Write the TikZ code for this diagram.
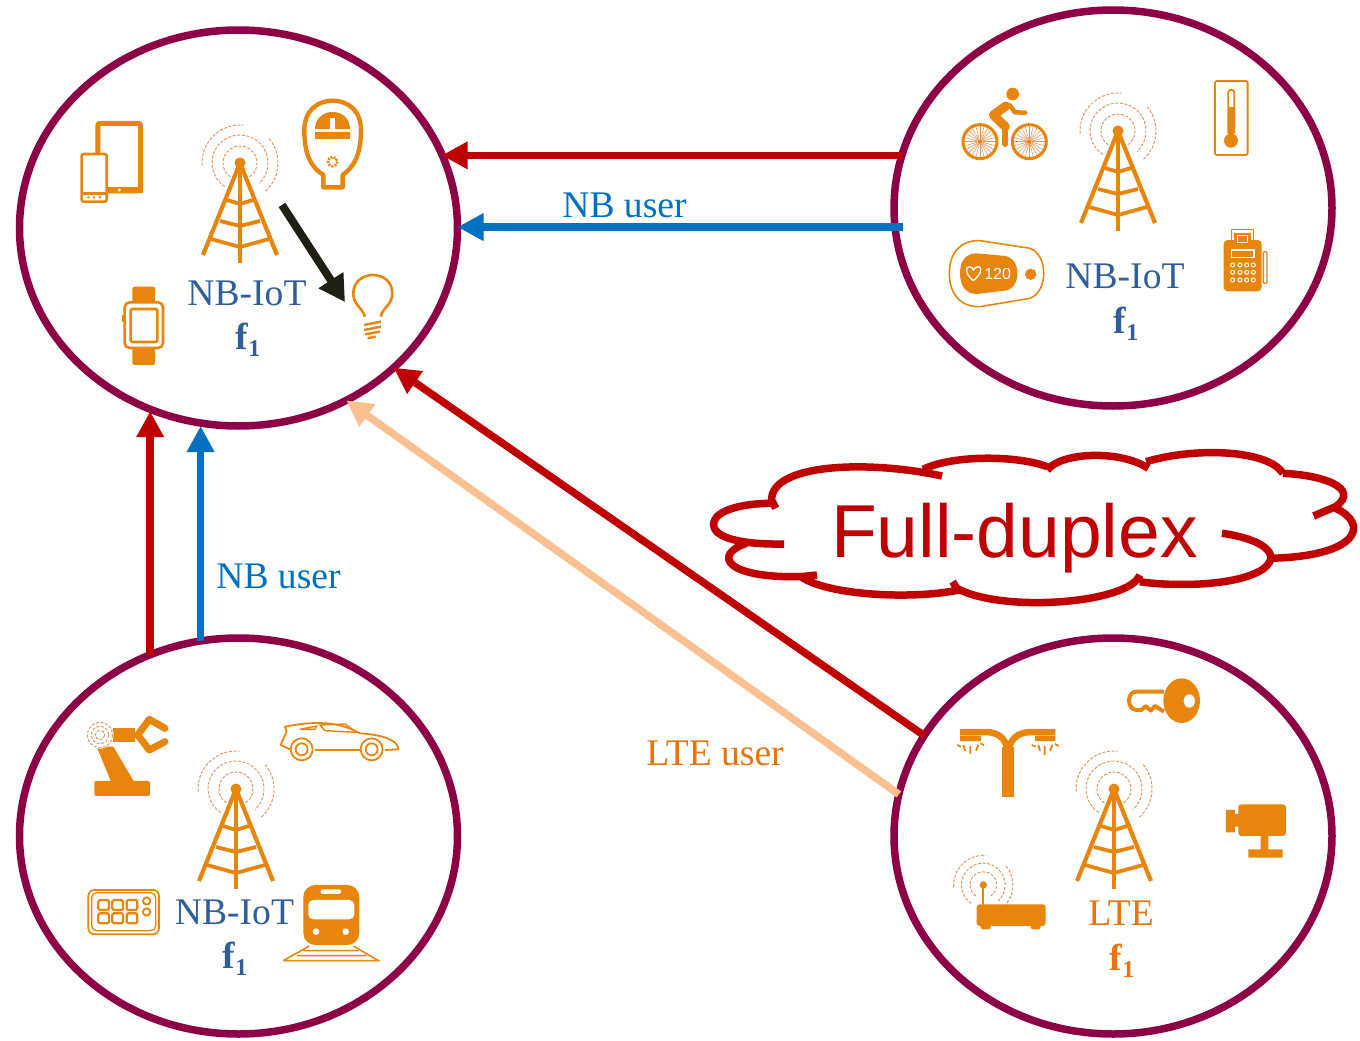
\documentclass[tikz,border=0pt]{standalone}
\usepackage{fontspec}
\usepackage{tikz}
\usetikzlibrary{positioning,shapes.geometric,arrows.meta}
\setmainfont{Liberation Serif}
\newfontfamily\labelsf{Liberation Sans}
\definecolor{cellrim}{HTML}{8E0045}
\definecolor{linkred}{HTML}{C00000}
\definecolor{linkblue}{HTML}{0070C0}
\definecolor{linkpeach}{HTML}{FAC090}
\definecolor{beamdark}{HTML}{211E12}
\definecolor{iconor}{HTML}{E8850C}
\definecolor{waveor}{HTML}{DC9A62}
\definecolor{nbtext}{HTML}{2F5F9A}
\definecolor{ltetext}{HTML}{E9730F}
\newcommand{\fone}{\textbf{f\raisebox{-7pt}{\fontsize{24}{24}\selectfont 1}}}

\tikzset{
  wave/.style={waveor, line width=1pt, dash pattern=on 3pt off 1.6pt},
  waves/.pic={
    \draw[wave] (-235:17) arc[start angle=-235, end angle=55, radius=17];
    \draw[wave] (-237:28) arc[start angle=-237, end angle=47, radius=28];
    \draw[wave] (-184:38) arc[start angle=-184, end angle=-85, radius=38];
    \draw[wave] (-40:38) arc[start angle=-40, end angle=50, radius=38];
  },
  tower/.pic={
    \draw[iconor, line width=4.2pt, line join=round] (-37,92) -- (0,0) -- (37,92);
    \draw[iconor, line width=4.2pt] (0,0) -- (0,100);
    \draw[iconor, line width=3.8pt] (-13,37) -- (0,41) -- (13,37);
    \draw[iconor, line width=3.8pt] (-20,58) -- (0,63) -- (20,58);
    \draw[iconor, line width=3.8pt] (-29,76) -- (0,84) -- (29,76);
    \fill[iconor] (0,0) circle[radius=5.5];
    \pic {waves};
  }
}

\begin{document}
\begin{tikzpicture}[x=1pt, y=-1pt,
    cell/.style={ellipse, draw=cellrim, line width=7.5pt, minimum width=438pt, minimum height=396pt, inner sep=0pt, outer sep=0pt},
    link/.style={-{Triangle[length=26pt, width=26pt]}, line width=7.5pt},
    cellname/.style={anchor=base, inner sep=0pt, font=\fontsize{37.6}{37.6}\selectfont},
    linkname/.style={anchor=base, inner sep=0pt, font=\fontsize{37.6}{37.6}\selectfont},
    cropA/.style={shift={(60,80)}, x=.3333pt, y=-.3333pt},
    cropB/.style={shift={(930,70)}, x=.3333pt, y=-.3333pt},
    cropC/.style={shift={(70,700)}, x=.3333pt, y=-.3333pt},
    cropD/.style={shift={(940,670)}, x=.3333pt, y=-.3333pt},
    cropE/.style={shift={(700,440)}, x=.4209pt, y=-.3333pt}]
  \useasboundingbox (0,0) rectangle (1360,1041);

  % the four cells
  \node[cell] (cellA) at (238.5,228) {};
  \node[cell] (cellB) at (1113,208) {};
  \node[cell] (cellC) at (238.5,836) {};
  \node[cell] (cellD) at (1113,836) {};

  % links between the cells
  \draw[link, linkred] (cellB.166) -- (cellB.166 -| cellA.20);
  \draw[link, linkblue, shorten <=-8pt] (cellB.185) -- (cellB.185 -| cellA.0);
  \draw[link, linkred, shorten >=2pt] (cellC.116) -- (cellC.116 |- cellA.244);
  \draw[link, linkblue, shorten >=3pt] (cellC.101) -- (cellC.101 |- cellA.259);
  \draw[link, linkpeach] (cellD.169) -- (cellA.302);
  \draw[link, linkred] (cellD.152.6) -- (cellA.318.6);

  \coordinate (beamfrom) at (282,205);
  \coordinate (beamto) at (345,302);
  \draw[-{Triangle[length=26pt, width=28pt]}, beamdark, line width=8pt] (beamfrom) -- (beamto);

  % texts
  \node[cellname, text=nbtext] (nameA) at (247,305) {NB-IoT};
  \node[cellname, text=nbtext] (freqA) at (248,349) {\fone};
  \node[cellname, text=nbtext] (nameB) at (1125,288) {NB-IoT};
  \node[cellname, text=nbtext] (freqB) at (1126,333) {\fone};
  \node[cellname, text=nbtext] (nameC) at (234.5,924) {NB-IoT};
  \node[cellname, text=nbtext] (freqC) at (235,968) {\fone};
  \node[cellname, text=ltetext] (nameD) at (1121,925) {LTE};
  \node[cellname, text=ltetext] (freqD) at (1122,970) {\fone};
  \node[linkname, text=linkblue] (userB) at (624.5,217) {NB user};
  \node[linkname, text=linkblue] (userC) at (278.5,588) {NB user};
  \node[linkname, text=ltetext] (userD) at (715,765) {LTE user};
  \node[anchor=base, inner sep=0pt, text=linkred, font=\labelsf\fontsize{75}{75}\selectfont] (cloudname) at (1014.5,557) {Full-duplex};

  % towers
  \pic at (240,163) {tower};
  \pic at (1118,131) {tower};
  \pic at (236,789) {tower};
  \pic at (1114,789) {tower};
  \pic[scale=.78] at (983.3,885) {waves};

  % cloud
  \begin{scope}[cropE]
    \draw[linkred, line width=7.5pt]
      (575,108) .. controls (400,60) and (170,70) .. (170,180) -- (180,205)
      (530,88) .. controls (600,45) and (750,45) .. (825,80)
      (825,90) .. controls (860,35) and (1000,30) .. (1065,85)
      (1060,65) .. controls (1180,20) and (1350,30) .. (1385,100)
      (1385,100) .. controls (1480,105) and (1570,145) .. (1510,200) -- (1458,228)
      (1510,205) .. controls (1590,250) and (1570,350) .. (1350,355)
      (1240,280) .. controls (1330,295) and (1385,340) .. (1340,385) .. controls (1280,440) and (1120,440) .. (1045,425)
      (1045,405) .. controls (1020,490) and (720,520) .. (610,445) -- (600,425)
      (615,450) .. controls (500,480) and (300,465) .. (240,410) -- (278,405)
      (240,410) .. controls (60,415) and (30,345) .. (110,310)
      (200,312) .. controls (70,315) and (10,280) .. (40,230) .. controls (60,205) and (110,190) .. (170,190);
  \end{scope}

  % icons of the first cell
  \begin{scope}[cropA]
    \draw[iconor, line width=5pt, rounded corners=2pt] (114,130) rectangle (241,333);
    \fill[iconor] (114,322) rectangle (248,340);
    \fill[white] (178,330) circle[radius=5];
    \draw[iconor, fill=white, line width=2.6pt, rounded corners=2pt] (65,222) rectangle (140,365);
    \draw[iconor, line width=2.4pt] (65,340) -- (140,340);
    \foreach \dotx in {85,102,120} \fill[iconor] (\dotx,352) circle[radius=4];
    % meter
    \draw[iconor, line width=4.4pt, line join=round] (790,322) -- (790,285) .. controls (760,265) and (733,235) .. (733,150) .. controls (733,90) and (775,62) .. (818,62) .. controls (862,62) and (903,90) .. (903,150) .. controls (903,235) and (875,265) .. (848,285) -- (848,322) -- cycle;
    \fill[iconor] (765,147) .. controls (765,115) and (790,96) .. (818,96) .. controls (846,96) and (870,115) .. (870,147) -- cycle;
    \fill[white] (810,115) rectangle (826,147);
    \fill[iconor] (765,157) rectangle (870,176);
    \draw[iconor, line width=2.4pt, dash pattern=on 2pt off 1.2pt] (818,245) circle[radius=14];
    % watch
    \fill[iconor, rounded corners=2pt] (217,620) rectangle (285,672);
    \fill[iconor, rounded corners=2pt] (217,800) rectangle (285,855);
    \draw[iconor, fill=white, line width=2.6pt, rounded corners=5pt] (194,667) rectangle (309,804);
    \draw[iconor, line width=2.6pt, rounded corners=2pt] (212,687) rectangle (292,786);
    \fill[iconor] (185,705) rectangle (193,727);
    % bulb
    \draw[iconor, line width=2.6pt] (915,710) .. controls (905,680) and (880,675) .. (880,640) .. controls (880,605) and (910,585) .. (938,585) .. controls (970,585) and (997,605) .. (997,640) .. controls (997,675) and (970,680) .. (962,710);
    \draw[iconor, line width=2.4pt] (912,735) -- (963,725) (912,750) -- (963,740) (915,763) -- (960,755) (923,775) -- (947,770);
  \end{scope}

  % icons of the second cell
  \begin{scope}[cropB]
    % bike
    \foreach \wheelx in {150,298} {
      \foreach \spoke in {0,15,...,345}
        \draw[waveor, line width=.6pt] (\wheelx,215) ++(\spoke:8) -- ++(\spoke:40);
      \draw[iconor, line width=3pt] (\wheelx,215) circle[radius=51];
      \fill[iconor] (\wheelx,215) circle[radius=7];
    }
    \fill[iconor] (248,72) circle[radius=19];
    \draw[iconor, line width=9pt, line join=round, line cap=round] (228,108) -- (190,135) -- (226,170);
    \draw[iconor, line width=6pt, line cap=round] (226,170) -- (226,222);
    \draw[iconor, line width=4.5pt, line join=round, line cap=round] (238,105) -- (255,127) -- (285,128);
    % thermometer
    \draw[iconor, line width=1.8pt, rounded corners=2pt] (855,33) rectangle (953,255);
    \draw[iconor, line width=1.8pt] (895,190) -- (895,68) arc[start angle=180, end angle=360, radius=9] -- (913,190);
    \fill[iconor] (895,110) rectangle (913,200);
    \fill[iconor] (903,212) circle[radius=21];
    % tag
    \draw[iconor, line width=1.6pt] (58,610) .. controls (58,550) and (90,510) .. (150,512) -- (300,535) .. controls (355,555) and (355,665) .. (300,685) -- (150,710) .. controls (90,712) and (58,670) .. (58,610) -- cycle;
    \fill[iconor] (90,610) .. controls (90,570) and (110,550) .. (140,550) -- (225,558) .. controls (275,565) and (275,655) .. (225,662) -- (140,672) .. controls (110,672) and (90,650) .. (90,610) -- cycle;
    \draw[white, line width=1.3pt] (130,632) .. controls (105,612) and (105,590) .. (118,590) .. controls (125,590) and (130,597) .. (130,600) .. controls (130,597) and (138,590) .. (145,590) .. controls (158,590) and (155,612) .. (130,632);
    \node[text=white, inner sep=0pt, font=\labelsf\fontsize{16}{16}\selectfont] (tagvalue) at (203,611) {120};
    \fill[iconor] (302,613) circle[radius=17];
    % terminal
    \fill[iconor, rounded corners=4pt] (881,510) rectangle (995,664);
    \draw[iconor, fill=white, line width=1.5pt] (905,478) rectangle (970,512);
    \fill[iconor] (912,490) rectangle (962,530);
    \draw[white, line width=1.3pt] (922,497) rectangle (952,518);
    \draw[white, line width=1.5pt] (905,540) rectangle (972,562);
    \foreach \keyy in {585,607,630}
      \foreach \keyx in {908,930,950,970}
        \draw[white, line width=1pt] (\keyx,\keyy) circle[radius=6];
    \draw[iconor, line width=1.3pt, rounded corners=1pt] (1000,545) rectangle (1011,640);
  \end{scope}

  % icons of the third cell
  \begin{scope}[cropC]
    % robot
    \fill[iconor, rounded corners=2pt] (73,243) rectangle (240,288);
    \fill[iconor] (80,140) -- (125,250) -- (195,250) -- (130,140) -- cycle;
    \fill[iconor] (130,85) rectangle (195,125);
    \draw[iconor, line width=7pt, line join=round, line cap=round] (285,85) -- (238,58) -- (203,105) -- (238,150) -- (285,125);
    \fill[white] (90,105) circle[radius=41];
    \foreach \ringr in {14,26,38}
      \draw[wave] (90,105) circle[radius=\ringr];
    % car
    \draw[iconor, line width=1.8pt, line join=round] (660,148) -- (632,135) -- (650,95) -- (645,80) .. controls (720,65) and (800,60) .. (870,100) .. controls (950,105) and (985,125) .. (985,148) -- (945,150) (870,150) -- (735,150);
    \draw[iconor, line width=1.4pt] (690,88) -- (740,78) -- (735,88) -- cycle (750,75) -- (825,72) -- (860,97) -- (765,92) -- cycle;
    \foreach \wheelx in {695,905} {
      \draw[iconor, line width=1.8pt] (\wheelx,148) circle[radius=33];
      \draw[iconor, line width=1.8pt] (\wheelx,148) circle[radius=18];
    }
    % keypad
    \draw[iconor, line width=1.7pt, rounded corners=6pt] (55,570) -- (267,570) -- (267,703) -- (55,703) -- cycle;
    \draw[iconor, line width=1.3pt, rounded corners=5pt] (65,578) -- (257,578) -- (257,692) -- (65,692) -- cycle;
    \foreach \keyx in {85,127,170}
      \foreach \keyy in {600,640}
        \draw[iconor, line width=2.2pt, rounded corners=1.5pt] (\keyx,\keyy) rectangle ++(32,30);
    \draw[iconor, line width=1.9pt] (230,603) circle[radius=11] (230,636) circle[radius=11];
    % train
    \fill[iconor, rounded corners=12pt] (700,555) rectangle (868,735);
    \fill[white, rounded corners=5pt] (715,600) rectangle (853,658);
    \fill[white, rounded corners=2pt] (752,568) rectangle (813,582);
    \fill[white] (738,695) circle[radius=10] (827,695) circle[radius=10];
    \draw[iconor, line width=1.5pt] (640,782) -- (925,782) -- (850,738) (640,782) -- (718,738) (700,752) -- (865,752) (680,767) -- (890,767);
  \end{scope}

  % icons of the fourth cell
  \begin{scope}[cropD]
    % key
    \fill[iconor] (725,92) ellipse[x radius=55, y radius=67];
    \fill[white] (748,93) ellipse[x radius=17, y radius=20];
    \draw[iconor, line width=4pt, line join=round] (672,65) -- (588,65) .. controls (560,65) and (560,120) .. (590,120) -- (605,120) -- (617,108) -- (632,122) -- (645,108) -- (672,125);
    % lamp
    \fill[iconor] (187,230) rectangle (222,382);
    \draw[iconor, line width=6.5pt] (60,186) -- (135,186) .. controls (180,186) and (204,210) .. (204,260);
    \draw[iconor, line width=6.5pt] (346,186) -- (275,186) .. controls (230,186) and (204,210) .. (204,260);
    \fill[iconor] (60,197) rectangle (123,213) (285,197) rectangle (346,213);
    \draw[iconor, line width=1.8pt] (52,225) -- (62,230) (70,225) -- (75,243) (91,228) -- (91,252) (115,224) -- (108,242) (132,226) -- (122,220)
      (275,225) -- (287,230) (295,225) -- (300,243) (314,228) -- (314,255) (338,224) -- (330,242) (356,228) -- (345,222);
    % camera
    \fill[iconor, rounded corners=3pt] (895,403) rectangle (1038,498);
    \fill[iconor] (858,420) rectangle (885,487) (880,432) rectangle (900,470);
    \fill[iconor] (962,495) rectangle (985,540) (925,538) rectangle (1028,563);
    % router
    \fill[iconor, rounded corners=3pt] (110,703) rectangle (317,768);
    \fill[iconor, rounded corners=1.5pt] (122,760) rectangle (152,778) (272,760) rectangle (302,778);
    \draw[iconor, line width=2pt] (130,645) -- (130,705);
    \fill[iconor] (130,645) circle[radius=11];
  \end{scope}
\end{tikzpicture}
\end{document}
